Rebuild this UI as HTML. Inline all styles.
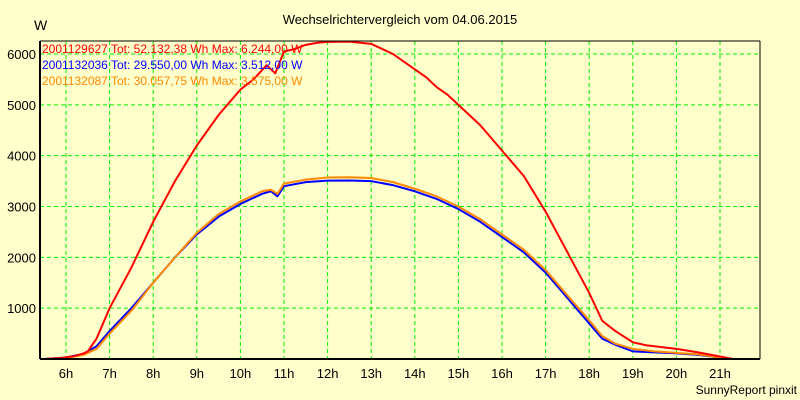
<!DOCTYPE html>
<html><head><meta charset="utf-8"><style>
body{margin:0;background:#ffffcc;}
svg{display:block;font-family:"Liberation Sans",sans-serif;}
</style></head><body>
<svg id="chart" width="800" height="400">
<rect x="0" y="0" width="800" height="400" fill="#ffffcc"/>
<text x="400" y="24" text-anchor="middle" font-size="13" fill="#000">Wechselrichtervergleich vom 04.06.2015</text>
<text x="34" y="30" font-size="14" fill="#000">W</text>
<g id="grid"></g>
<g id="series"></g>
<line x1="40" y1="41" x2="40" y2="359" stroke="#000" stroke-width="2"/>
<line x1="40" y1="359" x2="760" y2="359" stroke="#000" stroke-width="2"/>
<line x1="760" y1="41" x2="760" y2="359" stroke="#000" stroke-width="1"/>
<line x1="40" y1="41" x2="760" y2="41" stroke="#000" stroke-width="1"/>
<g font-size="12">
<text x="42" y="53" fill="#ff0000">2001129627 Tot: 52.132,38 Wh Max: 6.244,00 W</text>
<text x="42" y="69" fill="#0000ff">2001132036 Tot: 29.550,00 Wh Max: 3.512,00 W</text>
<text x="42" y="85" fill="#ff8800">2001132087 Tot: 30.057,75 Wh Max: 3.575,00 W</text>
</g>
<text x="797" y="394" text-anchor="end" font-size="12" fill="#000">SunnyReport pinxit</text>
</svg>
<script>
const xTicks=[6,7,8,9,10,11,12,13,14,15,16,17,18,19,20,21];
const yTicks=[1000,2000,3000,4000,5000,6000];
const redHours=[5.5,5.9,6.2,6.4,6.5,6.7,6.85,7.0,7.25,7.5,7.75,8,8.25,8.5,8.75,9,9.25,9.5,9.75,10,10.3,10.6,10.8,11.0,11.25,11.5,11.75,12,12.5,13,13.25,13.5,13.75,14,14.25,14.5,14.75,15,15.25,15.5,15.75,16,16.25,16.5,16.75,17,17.25,17.5,17.75,18,18.3,18.6,19,19.3,20,20.5,21,21.3,21.9];
const redValues=[0,20,60,110,150,400,700,1000,1400,1800,2250,2700,3100,3500,3850,4200,4500,4800,5050,5300,5500,5780,5620,6050,6100,6180,6220,6240,6244,6200,6100,6000,5850,5700,5550,5350,5200,5000,4800,4600,4350,4100,3850,3600,3250,2900,2500,2100,1700,1300,750,550,330,270,200,130,50,0,0];
const blueHours=[5.5,6,6.4,6.7,7,7.5,8,8.5,9,9.5,10,10.5,10.7,10.85,11,11.5,12,12.5,13,13.5,14,14.5,15,15.5,16,16.5,17,17.5,18,18.3,18.6,19,19.5,20,20.5,21,21.3];
const blueValues=[0,30,100,250,550,1000,1500,2000,2450,2800,3050,3250,3300,3200,3400,3480,3510,3512,3500,3420,3300,3150,2950,2700,2400,2100,1700,1200,700,400,280,150,130,110,80,30,0];
const orangeHours=[5.5,6,6.4,6.7,7,7.5,8,8.5,9,9.5,10,10.5,10.7,10.85,11,11.5,12,12.5,13,13.5,14,14.5,15,15.5,16,16.5,17,17.5,18,18.3,18.6,19,19.5,20,20.5,21,21.3,21.9];
const orangeValues=[0,20,80,200,500,950,1500,2000,2480,2850,3100,3300,3330,3250,3450,3530,3570,3575,3560,3480,3350,3200,3000,2750,2450,2150,1750,1250,760,450,300,200,150,120,90,30,0,0];
const X=h=>66+(h-6)*43.6;
const Y=v=>359-v*0.05083;
const NS="http://www.w3.org/2000/svg";
const grid=document.getElementById('grid');
const svg=document.getElementById('chart');
xTicks.forEach(h=>{
 const l=document.createElementNS(NS,'line');
 l.setAttribute('x1',X(h));l.setAttribute('x2',X(h));l.setAttribute('y1',41);l.setAttribute('y2',359);
 l.setAttribute('stroke','#00ee00');l.setAttribute('stroke-dasharray','4,3');
 
 
 grid.appendChild(l);
 const t=document.createElementNS(NS,'text');
 t.setAttribute('x',X(h));t.setAttribute('y',378);t.setAttribute('text-anchor','middle');t.setAttribute('font-size','13');
 t.textContent=h+'h';
 
 
 svg.appendChild(t);
});
yTicks.forEach(v=>{
 const l=document.createElementNS(NS,'line');
 l.setAttribute('x1',40);l.setAttribute('x2',760);l.setAttribute('y1',Y(v));l.setAttribute('y2',Y(v));
 l.setAttribute('stroke','#00ee00');l.setAttribute('stroke-dasharray','4,3');
 
 
 grid.appendChild(l);
 const t=document.createElementNS(NS,'text');
 t.setAttribute('x',36);t.setAttribute('y',Y(v)+5);t.setAttribute('text-anchor','end');t.setAttribute('font-size','13');
 t.textContent=v;
 
 
 svg.appendChild(t);
});
const g=document.getElementById('series');
function line(hs,vs,color,name){
 const p=document.createElementNS(NS,'polyline');
 p.setAttribute('points',hs.map((h,i)=>X(h)+','+Y(vs[i])).join(' '));
 p.setAttribute('fill','none');p.setAttribute('stroke',color);p.setAttribute('stroke-width','2');
 p.setAttribute('stroke-linejoin','round');
 
 
 g.appendChild(p);
}
line(blueHours,blueValues,'#0000ff','series-2001132036');
line(orangeHours,orangeValues,'#ff8800','series-2001132087');
line(redHours,redValues,'#ff0000','series-2001129627');
</script>
</body></html>
